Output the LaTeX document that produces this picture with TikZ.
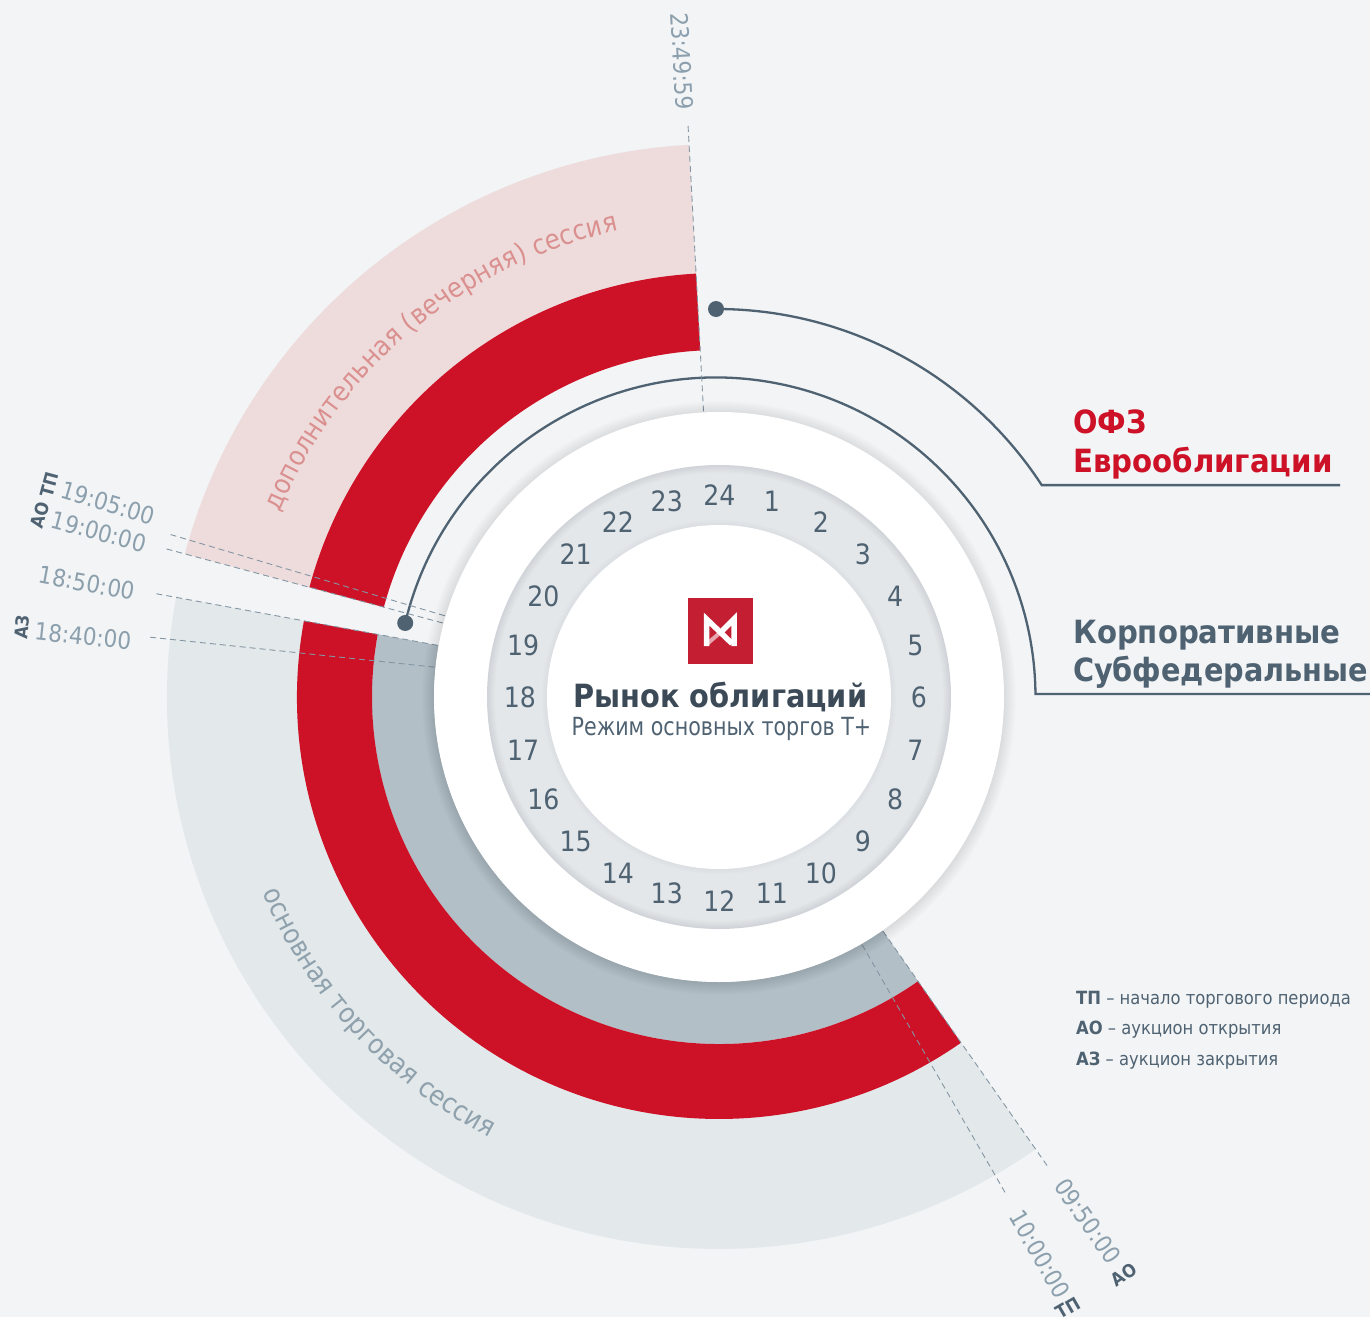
\documentclass[tikz,border=0pt]{standalone}
\usepackage{fontspec}
\usetikzlibrary{decorations.text}
\setmainfont{DejaVu Sans Condensed}
\newfontfamily\tah{DejaVu Sans Condensed}
\definecolor{bgc}{HTML}{F2F4F6}
\definecolor{lightband}{HTML}{E3E8EA}
\definecolor{pinkband}{HTML}{EEDCDC}
\definecolor{redband}{HTML}{CD1127}
\definecolor{blueband}{HTML}{B2BFC7}
\definecolor{linec}{HTML}{4F6272}
\definecolor{dashc}{HTML}{8496A3}
\definecolor{timec}{HTML}{8C9FAD}
\definecolor{darktxt}{HTML}{3B4A56}
\definecolor{pinktxt}{HTML}{DB9090}
\definecolor{greytxt}{HTML}{8EA1AD}
\definecolor{logored}{HTML}{C41E33}
\definecolor{ringc}{HTML}{E3E7EA}
\definecolor{ringd}{HTML}{D0D4D8}
\newcommand\fs[1]{\fontsize{#1}{#1}\selectfont}
\newcommand\evfmt{\fs{27.3}\color{pinktxt}}
\newcommand\mainfmt{\fs{27.4}\color{greytxt}}
\newcommand\sector[5]{\fill[#1] (#4:#3) arc (#4:#5:#3) -- (#5:#2) arc (#5:#4:#2) -- cycle;}
\tikzset{
  timelabel/.style={font=\fs{24}, text=timec, inner sep=0pt},
  tag/.style={font=\bfseries\fs{18}, text=linec, inner sep=0pt},
  hourlabel/.style={font=\fs{28}, text=linec, inner sep=0pt},
  timedash/.style={draw=dashc, line width=0.9pt, dash pattern=on 6pt off 4pt},
  conn/.style={draw=linec, line width=2.3pt},
  dotnode/.style={circle, fill=linec, minimum size=16pt, inner sep=0pt},
  cat/.style={font=\bfseries\fs{32}, anchor=base west, inner sep=0pt},
  legend/.style={font=\fs{18.2}, text=linec, anchor=base west, inner sep=0pt},
}
\begin{document}
\begin{tikzpicture}[x=1pt,y=1pt]
\useasboundingbox (-719,-620) rectangle (651,697);
\fill[bgc] (-719,-620) rectangle (651,697);
% bands
\sector{lightband}{285}{552}{169.6}{305}
\sector{blueband}{285}{347}{169.6}{305}
\sector{redband}{347}{422}{169.6}{305}
\sector{pinkband}{347}{553}{93.1}{165}
\sector{redband}{347}{424}{93.1}{165}
% connectors
\node[dotnode] (dotA) at ([shift={(-2.3,0)}]90.1:388) {};
\node[dotnode] (dotB) at ([shift={(-3,0)}]166.6:319.5) {};
\coordinate (kneeA) at ([shift={(-2.3,0)}]33.1:388);
\coordinate (kneeB) at ([shift={(-3,0)}]0.54:319.5);
\coordinate (endA) at (621,212);
\coordinate (endB) at (651,3);
\draw[conn] (dotA.center) arc (90.1:33.1:388) -- (kneeA -| endA);
\draw[conn] (dotB.center) arc (166.6:0.54:319.5) -- (kneeB -| endB);
% time dashes
\foreach \a/\n in {93.1/a,163.5/b,165/c,169.6/d,174/e,-55/f,-60/g}{
  \coordinate (in\n) at (\a:285);
  \coordinate (out\n) at (\a:572);
  \draw[timedash] (out\n) -- (in\n);
}
% shadow of white ring
\foreach \i in {12,11,...,1}{
  \fill[black, opacity=0.009] (0,-1) circle ({285+\i});
}
\fill[white] (0,0) circle (285);
% hour ring
\foreach \i in {0,1,...,8}{
  \pgfmathsetmacro\pc{\i*12.5}
  \fill[ringc!\pc!ringd] (0,0) circle ({232-\i});
}
\foreach \i in {5,4,...,1}{
  \pgfmathsetmacro\pc{100-(6-\i)*8}
  \fill[ringc!\pc!ringd] (0,0) circle ({172+\i});
}
\fill[white] (0,0) circle (172);
% hours
\foreach \h in {1,...,24}{
  \pgfmathsetmacro\ang{90-15*\h}
  \pgfmathsetmacro\hrx{(\h==6 || \h==18) ? 199.5 : 203}
  \pgfmathsetmacro\hx{\hrx*cos(\ang)+0.3}
  \pgfmathsetmacro\hy{203*sin(\ang)-0.7}
  \node[hourlabel] (h\h) at (\hx,\hy) {\h};
}
% curved band titles
\path[decorate, decoration={text along path, text align={left}, text={|\evfmt|дополнительная (вечерняя) сессия}}]
  (157.2:477) arc (157.2:100:477);
\path[decorate, decoration={text along path, text align={left}, text={|\mainfmt|основная торговая сессия}}]
  (203.2:497) arc (203.2:250:497);
% image-coordinate layer
\begin{scope}[shift={(-719,697)},y=-1pt]
  \node[timelabel, rotate=-87] (t2349) at (682,61) {23:49:59};
  \node[timelabel, rotate=-16.5] (t1905) at (108,503) {19:05:00};
  \node[timelabel, rotate=-15] (t1900) at (99,532) {19:00:00};
  \node[timelabel, rotate=-10.5] (t1850) at (87,583) {18:50:00};
  \node[timelabel, rotate=-6] (t1840) at (83,636) {18:40:00};
  \node[timelabel, rotate=-55] (t0950) at (1088,1221) {09:50:00};
  \node[timelabel, rotate=-60] (t1000) at (1040,1254) {10:00:00};
  \node[tag, rotate=75] (tagTPa) at (49,485) {ТП};
  \node[tag, rotate=75] (tagAOa) at (40,515) {АО};
  \node[tag, rotate=84] (tagAZ) at (22,627) {АЗ};
  \node[tag, rotate=35] (tagAOb) at (1124,1275) {АО};
  \node[tag, rotate=30] (tagTPb) at (1068,1308) {ТП};
  % logo
  \fill[logored] (688,598) rectangle (753,664);
  \draw[white!60!logored, line width=4pt] (722,631) -- (707,644);
  \draw[white, line width=5.5pt, line join=miter, line cap=butt] (706.5,646) -- (706.5,619) -- (732,643.5);
  \draw[white, line width=5.5pt, line join=miter, line cap=butt] (734,646) -- (734,619) -- (720,633);
  % centre text
  \node[font=\bfseries\fs{32}, text=darktxt, anchor=base, inner sep=0pt] (title) at (720.5,707) {Рынок облигаций};
  \node[font=\fs{25}, xscale=0.917, text=linec, anchor=base, inner sep=0pt] (subtitle) at (721.5,735) {Режим основных торгов Т+};
  % categories
  \node[cat, text=redband] (ofz) at (1073,434) {ОФЗ};
  \node[cat, text=redband, xscale=1.015] (euro) at (1073,473) {Еврооблигации};
  \node[cat, text=linec, xscale=1.012] (corp) at (1073,643) {Корпоративные};
  \node[cat, text=linec, xscale=0.997] (subf) at (1073,681) {Субфедеральные};
  % legend
  \node[legend] (lega) at (1076,1004) {\textbf{ТП} – начало торгового периода};
  \node[legend] (legb) at (1076,1034) {\textbf{АО} – аукцион открытия};
  \node[legend] (legc) at (1076,1065) {\textbf{АЗ} – аукцион закрытия};
\end{scope}
\end{tikzpicture}
\end{document}
